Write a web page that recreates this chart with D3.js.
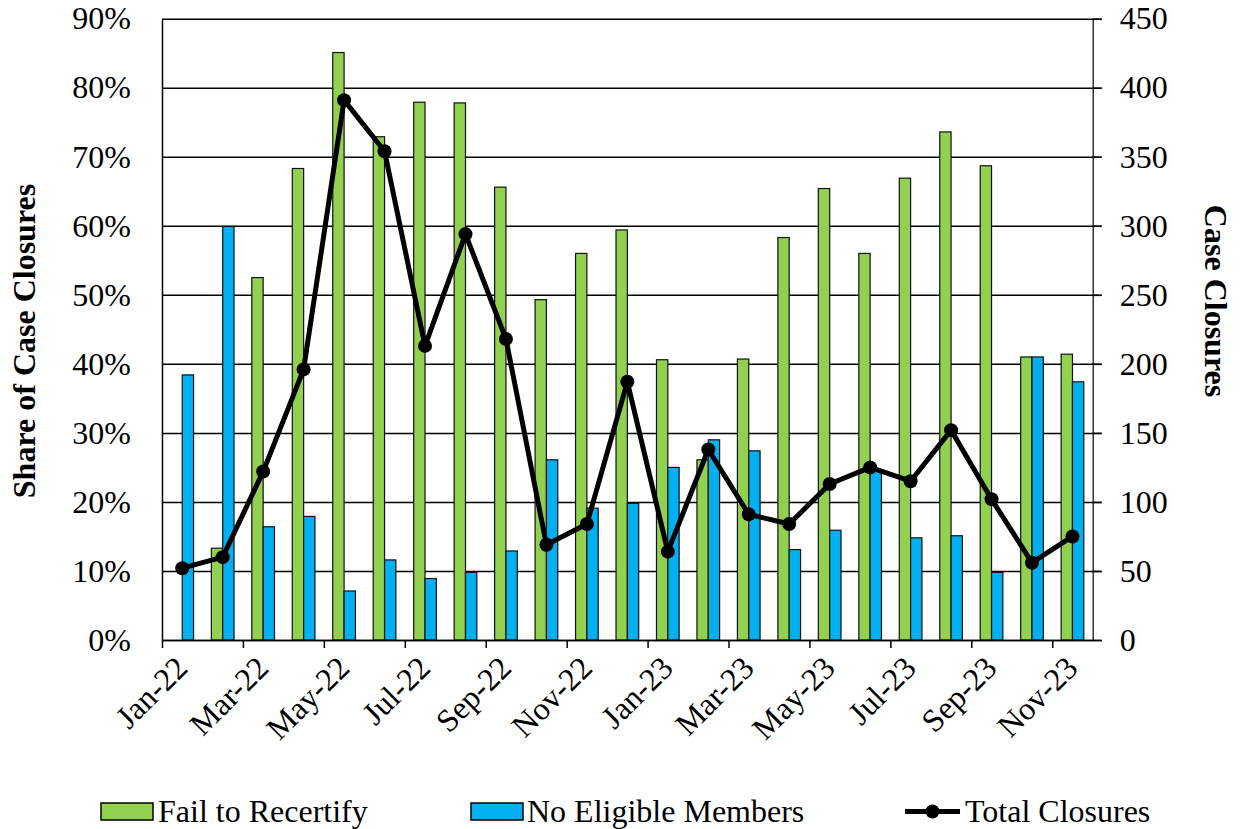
<!DOCTYPE html>
<html>
<head>
<meta charset="utf-8">
<script src="https://cdn.jsdelivr.net/npm/d3@7"></script>
<style>
  html, body { margin: 0; padding: 0; background: #fff; }
  svg { display: block; }
  text { font-family: "Liberation Serif", "Times New Roman", Times, serif; fill: #000; }
</style>
</head>
<body>
<svg id="chart" width="1241" height="829"></svg>
<script>
const months = ["Jan-22","Feb-22","Mar-22","Apr-22","May-22","Jun-22","Jul-22","Aug-22","Sep-22","Oct-22","Nov-22","Dec-22",
                "Jan-23","Feb-23","Mar-23","Apr-23","May-23","Jun-23","Jul-23","Aug-23","Sep-23","Oct-23","Nov-23"];
const failToRecertify = [0, 13.3, 52.5, 68.3, 85.1, 72.9, 77.9, 77.8, 65.6, 49.3, 56.0, 59.4,
                         40.6, 26.1, 40.7, 58.3, 65.4, 56.0, 66.9, 73.6, 68.7, 41.0, 41.4];
const noEligibleMembers = [38.4, 59.9, 16.4, 17.9, 7.1, 11.6, 8.9, 9.8, 12.9, 26.1, 19.1, 19.8,
                           25.0, 29.0, 27.4, 13.1, 15.9, 24.6, 14.8, 15.1, 9.8, 41.0, 37.4];
const totalClosures = [52, 60, 122, 196, 391, 354, 213, 294, 218, 69, 84, 187,
                       64, 138, 91, 84, 113, 125, 115, 152, 102, 56, 75];
const leftTicks = [0,10,20,30,40,50,60,70,80,90];
const rightTicks = [0,50,100,150,200,250,300,350,400,450];
const seriesNames = ["Fail to Recertify", "No Eligible Members", "Total Closures"];

const svg = d3.select("#chart");
const L = 162, R = 1092.7, T = 18.7, B = 640;
const FS = 32;
const FONT = '"Liberation Serif", "Times New Roman", Times, serif';
const green = "#92D050", blue = "#00B0F0";

const x = d3.scaleBand().domain(months).range([L, R]).padding(0);
const xi = d3.scaleLinear().domain([0, months.length]).range([L, R]);
const y = d3.scaleLinear().domain([0, 90]).range([B, T]);
const y2 = d3.scaleLinear().domain([0, 450]).range([B, T]);
const bw = x.bandwidth() * 0.28;

// gridlines
const grid = svg.append("g").attr("transform", `translate(${R + 9},0)`)
  .call(d3.axisLeft(y).tickValues(leftTicks).tickSize(R + 9 - L).tickFormat(""));
grid.select(".domain").remove();
grid.selectAll("line").attr("stroke", "#000").attr("stroke-width", 1.5);

// bars
const groups = svg.append("g");
groups.selectAll("rect.g").data(months).join("rect")
  .attr("x", d => x(d) + x.bandwidth()/2 - bw)
  .attr("y", (d,i) => y(failToRecertify[i]))
  .attr("width", bw)
  .attr("height", (d,i) => B - y(failToRecertify[i]))
  .attr("fill", green).attr("stroke", "#111").attr("stroke-width", 1.2)
  .attr("display", (d,i) => failToRecertify[i] > 0 ? null : "none");
groups.selectAll("rect.b").data(months).join("rect")
  .attr("x", d => x(d) + x.bandwidth()/2)
  .attr("y", (d,i) => y(noEligibleMembers[i]))
  .attr("width", bw)
  .attr("height", (d,i) => B - y(noEligibleMembers[i]))
  .attr("fill", blue).attr("stroke", "#111").attr("stroke-width", 1.2);

// left axis
const ax = svg.append("g").attr("transform", `translate(${L},0)`)
  .call(d3.axisLeft(y).tickValues(leftTicks).tickSize(0).tickSizeOuter(0).tickPadding(31).tickFormat(d => d + "%"));
ax.attr("font-family", null).attr("font-size", null);
ax.select(".domain").attr("stroke", "#000").attr("stroke-width", 1.5);
ax.selectAll("text").style("font-size", FS + "px").style("font-family", FONT);

// right axis
const ar = svg.append("g").attr("transform", `translate(${R},0)`)
  .call(d3.axisRight(y2).tickValues(rightTicks).tickSize(9).tickSizeOuter(0).tickPadding(18));
ar.attr("font-family", null).attr("font-size", null);
ar.select(".domain").attr("stroke", "#000").attr("stroke-width", 1.2);
ar.selectAll("line").attr("stroke", "#000").attr("stroke-width", 1.5);
ar.selectAll("text").style("font-size", FS + "px").style("font-family", FONT);

// bottom axis
const ab = svg.append("g").attr("transform", `translate(0,${B})`)
  .call(d3.axisBottom(xi).tickValues(d3.range(0, months.length, 2)).tickSize(8).tickSizeOuter(0).tickFormat(""));
ab.attr("font-family", null).attr("font-size", null);
ab.select(".domain").attr("stroke", "#000").attr("stroke-width", 1.5);
ab.selectAll("line").attr("stroke", "#000").attr("stroke-width", 1.5);
ab.selectAll("g.tick").append("text")
  .attr("transform", "translate(11,14) rotate(-45)")
  .attr("text-anchor", "end")
  .attr("dy", "0.7em")
  .style("font-size", FS + "px").style("font-family", FONT)
  .text(i => months[i]);

// line
const line = d3.line().x((d,i) => x(months[i]) + x.bandwidth()/2).y(d => y2(d));
svg.append("path").datum(totalClosures).attr("d", line)
  .attr("fill", "none").attr("stroke", "#000").attr("stroke-width", 5).attr("stroke-linejoin", "round");
svg.append("g").selectAll("circle").data(totalClosures).join("circle")
  .attr("cx", (d,i) => x(months[i]) + x.bandwidth()/2)
  .attr("cy", d => y2(d)).attr("r", 7).attr("fill", "#000");

// axis titles
svg.append("text").attr("transform", "translate(24,341) rotate(-90)")
  .attr("text-anchor", "middle").attr("dominant-baseline", "central")
  .style("font-size", FS + "px").style("font-weight", "bold").text("Share of Case Closures");
svg.append("text").attr("transform", "translate(1216,301) rotate(90)")
  .attr("text-anchor", "middle").attr("dominant-baseline", "central")
  .style("font-size", FS + "px").style("font-weight", "bold").text("Case Closures");

// legend
const lg = svg.append("g");
lg.append("rect").attr("x", 101).attr("y", 803).attr("width", 52).attr("height", 17)
  .attr("fill", green).attr("stroke", "#000").attr("stroke-width", 1.5);
lg.append("text").attr("x", 158).attr("y", 822).style("font-size", FS + "px").text(seriesNames[0]);
lg.append("rect").attr("x", 471).attr("y", 803).attr("width", 52).attr("height", 17)
  .attr("fill", blue).attr("stroke", "#000").attr("stroke-width", 1.5);
lg.append("text").attr("x", 527).attr("y", 822).style("font-size", FS + "px").text(seriesNames[1]);
lg.append("line").attr("x1", 905).attr("x2", 960).attr("y1", 811.5).attr("y2", 811.5)
  .attr("stroke", "#000").attr("stroke-width", 5);
lg.append("circle").attr("cx", 932.5).attr("cy", 811.5).attr("r", 7).attr("fill", "#000");
lg.append("text").attr("x", 965).attr("y", 822).style("font-size", FS + "px").text(seriesNames[2]);
</script>
</body>
</html>
